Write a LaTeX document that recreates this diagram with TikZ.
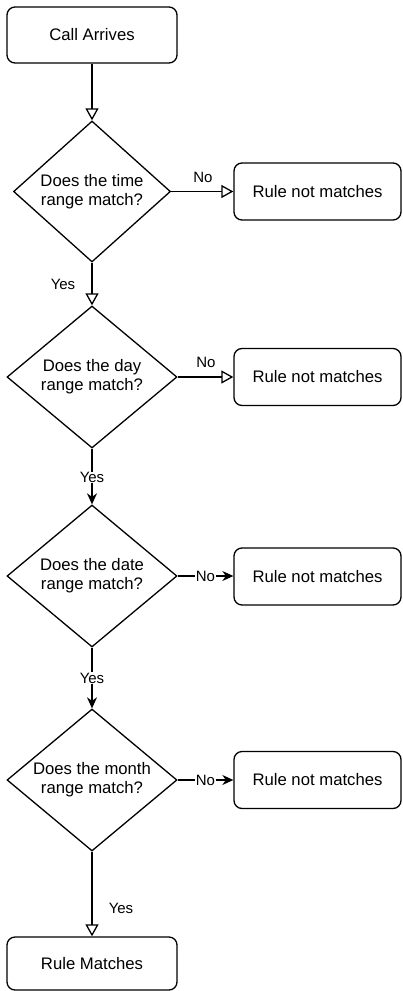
\documentclass[tikz,border=0pt]{standalone}
\usepackage{fontspec}
\setmainfont{Liberation Sans}
\usetikzlibrary{shapes.geometric,arrows.meta}
\begin{document}
\begin{tikzpicture}[x=1pt,y=-1pt,
  font=\fontsize{16.7}{19}\selectfont,
  every path/.style={line width=1.3pt},
  rbox/.style={draw, rounded corners=8pt, minimum width=170pt, minimum height=56pt, inner sep=0pt, line width=1.3pt},
  nbox/.style={draw, rounded corners=8pt, minimum width=167pt, minimum height=57pt, inner sep=0pt, line width=1.3pt},
  dec/.style={draw, diamond, aspect=1.2, inner sep=0pt, minimum width=170pt, minimum height=142pt, align=center, line width=1.3pt},
  openarr/.style={-{Triangle[open, length=12pt, width=13pt, line width=1.3pt]}},
  fillarr/.style={-{Stealth[length=11pt, width=10pt, inset=3.5pt]}},
  lbl/.style={inner sep=1pt, font=\fontsize{15}{17}\selectfont},
  lblbg/.style={inner sep=0.5pt, fill=white, font=\fontsize{15}{17}\selectfont}
]
\useasboundingbox (0,0) rectangle (402,991);

\node[rbox] (start) at (92,35) {Call Arrives};
\node[dec, minimum width=157pt, minimum height=141pt] (d1) at (92,191.5) {Does the time\\range match?};
\node[nbox] (n1) at (317.5,191.5) {Rule not matches};
\node[dec] (d2) at (92,377) {Does the day\\range match?};
\node[nbox] (n2) at (317.5,377) {Rule not matches};
\node[dec] (d3) at (92,576) {Does the date\\range match?};
\node[nbox] (n3) at (317.5,576.5) {Rule not matches};
\node[dec] (d4) at (92,780) {Does the month\\range match?};
\node[nbox] (n4) at (317.5,780) {Rule not matches};
\node[rbox, minimum height=53pt] (end) at (92,963.5) {Rule Matches};

\draw[openarr] (start) -- (d1);
\draw[openarr] (d1) -- (n1);
\node[lbl] (no1) at (203,177) {No};
\draw[openarr] (d1) -- (d2);
\node[lbl] (yes1) at (63,284) {Yes};
\draw[openarr] (d2) -- (n2);
\node[lbl] (no2) at (206,362) {No};
\draw[fillarr] (d2) -- node[lblbg, pos=0.52] (yes2) {Yes} (d3);
\draw[fillarr] (d3) -- node[lblbg, pos=0.5] (no3) {No} (n3.west |- d3);
\draw[fillarr] (d3) -- node[lblbg, pos=0.5] (yes3) {Yes} (d4);
\draw[fillarr] (d4) -- node[lblbg, pos=0.5] (no4) {No} (n4);
\draw[openarr] (d4) -- (end);
\node[lbl] (yes4) at (121,908) {Yes};
\end{tikzpicture}
\end{document}
